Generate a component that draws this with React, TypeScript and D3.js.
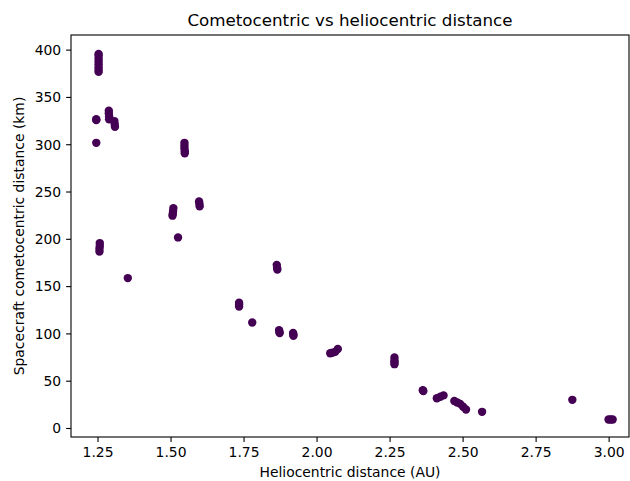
import React from "react";
import * as d3 from "d3";

// Heliocentric distance (AU) of each observation
const helio: number[] = [
  1.252, 1.252, 1.252, 1.252, 1.252, 1.252, 1.252, 1.252,
  1.244, 1.244,
  1.287, 1.287, 1.288, 1.288,
  1.306, 1.307, 1.308,
  1.244,
  1.546, 1.546, 1.546, 1.547, 1.547,
  1.596, 1.597, 1.598,
  1.508, 1.507, 1.506, 1.505,
  1.524,
  1.256, 1.256, 1.255, 1.255,
  1.352,
  1.862, 1.863, 1.864,
  1.733, 1.733, 1.733,
  1.778,
  1.870, 1.871, 1.872,
  1.918, 1.919, 1.919,
  2.045, 2.052, 2.062, 2.071,
  2.265, 2.265, 2.265, 2.265,
  2.362, 2.364,
  2.410, 2.422, 2.433,
  2.470, 2.480, 2.490, 2.500, 2.510,
  2.565,
  2.874,
  2.998, 3.005, 3.012,
];

// Spacecraft cometocentric distance (km) of each observation
const dist: number[] = [
  396, 394, 391, 388, 385, 382, 379, 377,
  327, 326,
  336, 333, 330, 327,
  325, 322, 319,
  302,
  302, 299, 296, 293, 291,
  240, 237.5, 235,
  233, 230, 227, 225,
  202,
  196, 193, 190, 187,
  159,
  173, 170, 168,
  133, 131, 129,
  112,
  104, 102, 101,
  101, 99, 98,
  79.5, 80, 81, 84,
  75, 72, 70, 68,
  40.5, 39.5,
  32, 33.5, 35,
  29, 27.5, 26, 23, 20,
  17.6,
  30.3,
  9.5, 9.5, 9.5,
];

const xTicks: number[] = [1.25, 1.5, 1.75, 2.0, 2.25, 2.5, 2.75, 3.0];
const yTicks: number[] = [0, 50, 100, 150, 200, 250, 300, 350, 400];

const W = 630;
const H = 481;
const left = 71;
const right = 629;
const top = 35;
const bottom = 437;

export default function App() {
  const x = d3.scaleLinear().domain([1.1575, 3.068]).range([left, right]);
  const y = d3.scaleLinear().domain([-9.0, 416]).range([bottom, top]);
  const font = "DejaVu Sans, sans-serif";
  const tickLen = 4.9;
  const points = helio.map((h, i) => ({ h, d: dist[i] }));

  return (
    <svg
      width={W}
      height={H}
      style={{ position: "absolute", left: 0, top: 0, background: "#fff" }}
      fontFamily={font}
    >
      <rect x={0} y={0} width={W} height={H} fill="#fff" />
      <g>
        {points.map((p, i) => (
          <circle key={i} cx={x(p.h)} cy={y(p.d)} r={4.2} fill="#440154" />
        ))}
      </g>
      <rect
        x={left}
        y={top}
        width={right - left}
        height={bottom - top}
        fill="none"
        stroke="#000"
        strokeWidth={1.1}
      />
      {xTicks.map((t) => (
        <g key={"x" + t} transform={`translate(${x(t)},${bottom})`}>
          <line y1={0} y2={tickLen} stroke="#000" strokeWidth={1.1} />
          <text y={19.5} textAnchor="middle" fontSize={13.9} fill="#000">
            {t.toFixed(2)}
          </text>
        </g>
      ))}
      {yTicks.map((t) => (
        <g key={"y" + t} transform={`translate(${left},${y(t)})`}>
          <line x1={0} x2={-tickLen} stroke="#000" strokeWidth={1.1} />
          <text x={-9.8} dy="0.35em" textAnchor="end" fontSize={13.9} fill="#000">
            {t}
          </text>
        </g>
      ))}
      <text
        x={(left + right) / 2}
        y={26}
        textAnchor="middle"
        fontSize={16.7}
        fill="#000"
      >
        Cometocentric vs heliocentric distance
      </text>
      <text
        x={(left + right) / 2}
        y={477}
        textAnchor="middle"
        fontSize={13.9}
        fill="#000"
      >
        Heliocentric distance (AU)
      </text>
      <text
        transform={`translate(24,${(top + bottom) / 2}) rotate(-90)`}
        textAnchor="middle"
        fontSize={13.9}
        fill="#000"
      >
        Spacecraft cometocentric distance (km)
      </text>
    </svg>
  );
}
